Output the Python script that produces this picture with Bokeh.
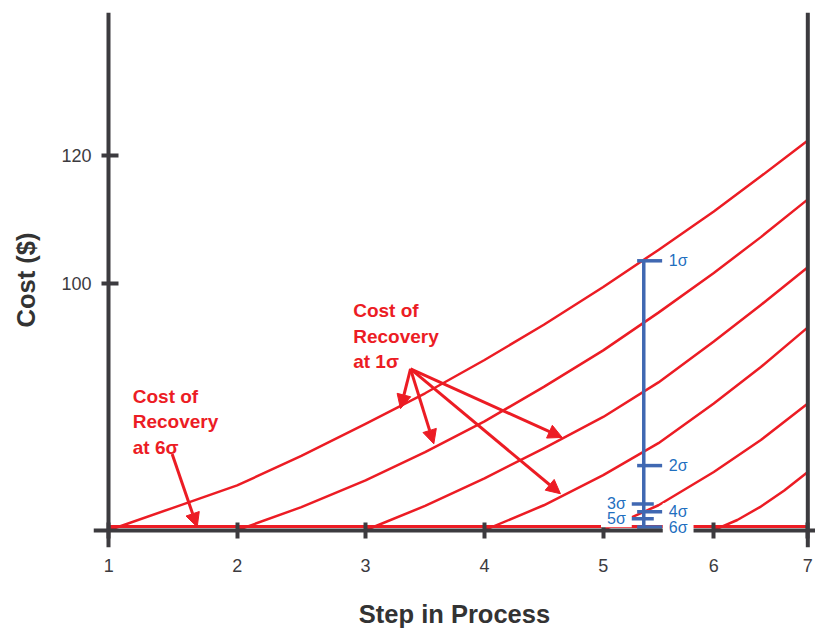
from bokeh.plotting import figure
from bokeh.models import Range1d, LinearAxis, FixedTicker, Span, Label, Arrow, NormalHead
from bokeh.embed import file_html
from bokeh.resources import INLINE

# ---------------- data ----------------
step_labels = ["1", "2", "3", "4", "5", "6", "7"]
# the step axis of the original is drawn with uneven spacing
step_axis_pos = [1.0, 2.102, 3.204, 4.225, 5.244, 6.193, 7.0]
# positions where the curves were read (steps and half-steps)
sample_pos = [1.0, 1.551, 2.102, 2.653, 3.204, 3.715, 4.225,
              4.734, 5.244, 5.718, 6.193, 6.597, 7.0]
cost_ticks = [100, 120]
baseline_cost = 61.5

cost_from_step1 = [61.5, 65.0, 68.5, 73.1, 78.1, 82.9, 88.1, 93.6, 99.5, 105.3, 111.3, 116.8, 122.4]
cost_from_step2 = [61.5, 65.1, 69.3, 73.7, 78.5, 83.9, 89.6, 95.5, 101.7, 107.3, 113.2]
cost_from_step3 = [61.5, 65.3, 69.6, 74.3, 79.2, 84.6, 91.0, 96.7, 102.6]
cost_from_step4 = [61.5, 65.4, 70.1, 75.1, 81.3, 87.0, 93.2]
cost_from_step5 = [61.5, 65.4, 70.6, 75.6, 81.3]
step6_pos = [6.193, 6.395, 6.597, 6.798, 7.0]
cost_from_step6 = [61.5, 63.1, 65.2, 67.7, 70.6]
cost_at_6sigma = 62.1

sigma_names = ["1σ", "2σ", "3σ", "4σ", "5σ", "6σ"]
sigma_cost = [103.6, 71.6, 65.6, 64.4, 63.3, 62.0]
sigma_side = ["right", "right", "left", "right", "left", "right"]
sigma_step_pos = 5.592

# ---------------- styling ----------------
RED = "#ec1c24"
BLUE_LINE = "#4068b2"
BLUE_TEXT = "#1f6fbf"
AXIS = "#3c3b3f"
FONT = "Liberation Sans"

p = figure(width=815, height=630,
           x_range=Range1d(0.869, 7.066), y_range=Range1d(58.8, 142.4),
           x_axis_type=None, y_axis_type=None,
           output_backend="svg", toolbar_location=None,
           min_border_left=93, min_border_right=0,
           min_border_top=12, min_border_bottom=83)
p.outline_line_color = None
p.background_fill_color = "white"

step_overrides = {pos: lab for pos, lab in zip(step_axis_pos, step_labels)}

# axis lines and ticks, crossing at the origin of the chart
x_rule = LinearAxis(
    fixed_location=baseline_cost,
    ticker=FixedTicker(ticks=step_axis_pos, minor_ticks=[]),
    major_label_text_color=None,
    axis_line_width=4, axis_line_color=AXIS,
    major_tick_line_width=4, major_tick_line_color=AXIS,
    major_tick_in=8, major_tick_out=8,
    minor_tick_line_color=None,
)
p.add_layout(x_rule, "below")
y_rule = LinearAxis(
    fixed_location=step_axis_pos[0],
    ticker=FixedTicker(ticks=cost_ticks, minor_ticks=[]),
    major_label_text_color=None,
    axis_line_width=4, axis_line_color=AXIS,
    major_tick_line_width=4, major_tick_line_color=AXIS,
    major_tick_in=10, major_tick_out=7,
    minor_tick_line_color=None,
)
p.add_layout(y_rule, "left")

# tick labels and axis titles
xaxis = LinearAxis(
    ticker=FixedTicker(ticks=step_axis_pos, minor_ticks=[]),
    major_label_overrides=step_overrides,
    axis_label="Step in Process",
    axis_label_text_font=FONT, axis_label_text_font_size="25.5px",
    axis_label_text_font_style="bold", axis_label_text_color="#333333",
    axis_label_standoff=25,
    major_label_text_font=FONT, major_label_text_font_size="18px",
    major_label_text_color=AXIS, major_label_standoff=11,
    axis_line_color=None, major_tick_line_color=None, minor_tick_line_color=None,
    major_tick_in=0, major_tick_out=0,
)
p.add_layout(xaxis, "below")
yaxis = LinearAxis(
    ticker=FixedTicker(ticks=cost_ticks, minor_ticks=[]),
    axis_label="Cost ($)",
    axis_label_text_font=FONT, axis_label_text_font_size="25.5px",
    axis_label_text_font_style="bold", axis_label_text_color="#333333",
    axis_label_standoff=18,
    major_label_text_font=FONT, major_label_text_font_size="18px",
    major_label_text_color=AXIS, major_label_standoff=2,
    axis_line_color=None, major_tick_line_color=None, minor_tick_line_color=None,
    major_tick_in=0, major_tick_out=0,
)
p.add_layout(yaxis, "left")

p.add_layout(Span(location=step_axis_pos[-1], dimension="height",
                  line_width=4, line_color=AXIS))

# flat 6-sigma cost line
p.line([step_axis_pos[0], step_axis_pos[-1]], [cost_at_6sigma, cost_at_6sigma],
       line_color=RED, line_width=3)

# recovery cost curves
curves = [
    (sample_pos[0:], cost_from_step1),
    (sample_pos[2:], cost_from_step2),
    (sample_pos[4:], cost_from_step3),
    (sample_pos[6:], cost_from_step4),
    (sample_pos[8:], cost_from_step5),
    (step6_pos, cost_from_step6),
]
for xs, ys in curves:
    p.line(xs, ys, line_color=RED, line_width=2.5, line_join="round")

# sigma scale
p.segment(x0=[sigma_step_pos], y0=[min(sigma_cost)], x1=[sigma_step_pos], y1=[max(sigma_cost)],
          line_color=BLUE_LINE, line_width=3.5)
tx0 = [sigma_step_pos - (0.057 if s == "right" else 0.129) for s in sigma_side]
tx1 = [sigma_step_pos + (0.158 if s == "right" else 0.086) for s in sigma_side]
p.segment(x0=tx0, y0=sigma_cost, x1=tx1, y1=sigma_cost,
          line_color=BLUE_LINE, line_width=3.5)
for name, c, side in zip(sigma_names, sigma_cost, sigma_side):
    p.add_layout(Label(
        x=sigma_step_pos, y=c, text=name,
        x_offset=19 if side == "right" else -12,
        text_align="left" if side == "right" else "right",
        text_baseline="middle",
        text_font=FONT, text_font_size="16px", text_color=BLUE_TEXT,
        background_fill_color="white",
        padding=dict(left=6, right=6, top=0, bottom=0),
    ))

# red annotations
for tx, ty, t in [(3.098, 97.4, "Cost of\nRecovery\nat 1σ"),
                  (1.206, 84.0, "Cost of\nRecovery\nat 6σ")]:
    p.add_layout(Label(x=tx, y=ty, text=t, text_align="left", text_baseline="top",
                       text_font=FONT, text_font_size="19px", text_font_style="bold",
                       text_color=RED, text_line_height=1.2))

arrows = [
    ((3.590, 86.7), (3.504, 80.5)),
    ((3.590, 86.7), (3.790, 75.0)),
    ((3.590, 86.7), (4.892, 76.0)),
    ((3.590, 86.7), (4.877, 67.2)),
    ((1.544, 73.4), (1.759, 62.0)),
]
for (xs, ys), (xe, ye) in arrows:
    p.add_layout(Arrow(x_start=xs, y_start=ys, x_end=xe, y_end=ye,
                       line_color=RED, line_width=3,
                       end=NormalHead(size=14, fill_color=RED, line_color=RED, line_width=1)))

open("out.html", "w").write(file_html(p, INLINE))
